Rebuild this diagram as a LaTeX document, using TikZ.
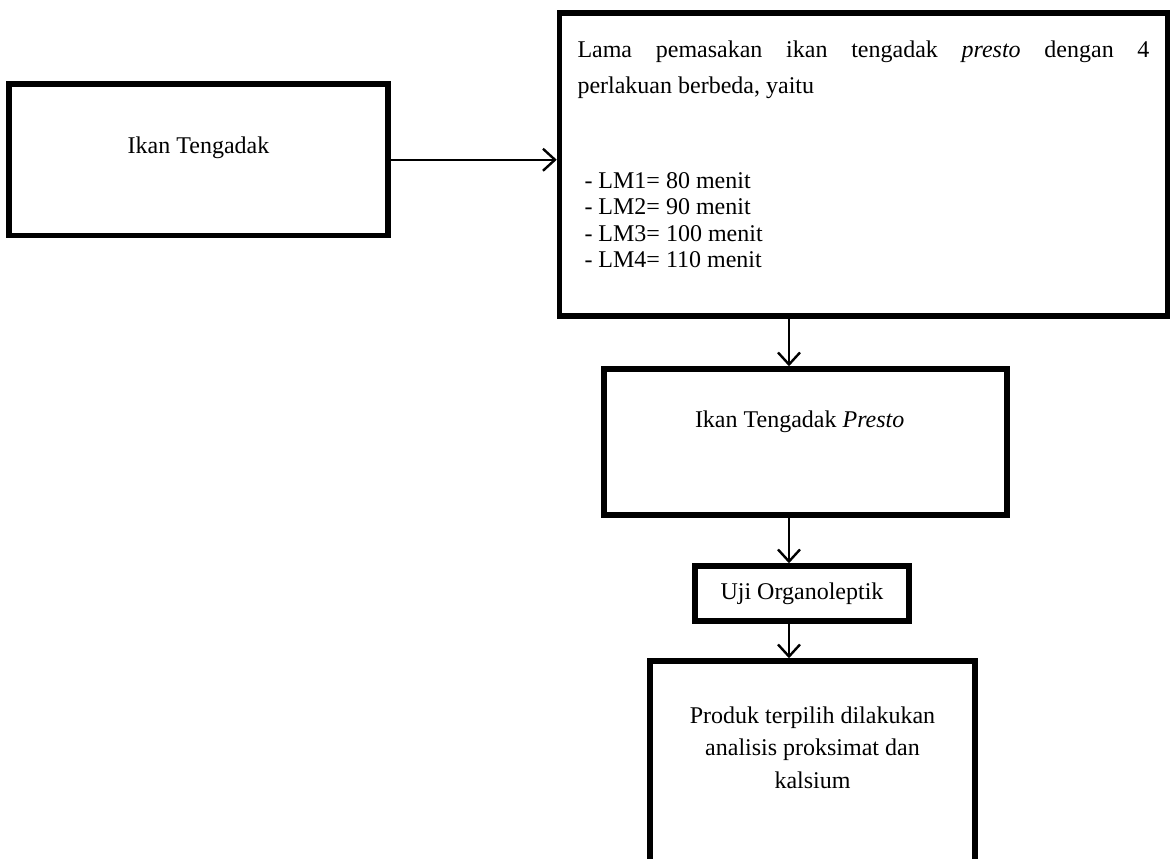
\documentclass[tikz,border=0pt]{standalone}
\usepackage{fontspec}
\setmainfont{Liberation Serif}
\usepackage{amsmath}
\usetikzlibrary{arrows.meta}
\hbadness=10000

\begin{document}
\begin{tikzpicture}[x=0.5pt, y=-0.5pt,
  box/.style = {draw, line width = 2.75pt, inner sep = 0pt, font = \fontsize{12}{13.25}\selectfont},
  arr/.style = {draw, line width = 1.2pt, -{Straight Barb[length = 6pt, width = 11pt]}}]
\useasboundingbox (0,0) rectangle (1173,858);
\clip (0,0) rectangle (1173,858);
\coordinate (mid) at (789,0);
\path (198.5,159.75) node [box] (ikan) {\parbox[c][75.75pt][t]{189.5pt}{\centering\rule{0pt}{34.5pt}Ikan Tengadak}};
\path (863.5,164.5) node [box, inner xsep = 9pt] (lama) {\parbox[c][151.5pt][t]{286pt}{\baselineskip = 18pt \rule{0pt}{22pt}Lama pemasakan ikan tengadak \textit{presto} dengan 4\linebreak perlakuan berbeda, yaitu\par
  \vspace{34.25pt}\baselineskip = 13.25pt
  \hspace*{3.5pt}- LM1= 80 menit\\
  \hspace*{3.5pt}- LM2= 90 menit\\
  \hspace*{3.5pt}- LM3= 100 menit\\
  \hspace*{3.5pt}- LM4= 110 menit}};
\path (805.5,442) node [box] (presto) {\parbox[c][73pt][t]{201.5pt}{\rule{0pt}{29pt}\hspace*{45.5pt}Ikan Tengadak \textit{Presto}}};
\path (802,593.5) node [box, minimum width = 107pt, minimum height = 27.5pt] (uji) {Uji Organoleptik};
\path (812.5,780.5) node [box] (produk) {\parbox[c][119.5pt][t]{162.5pt}{\centering\baselineskip = 16.25pt \rule{0pt}{31pt}Produk terpilih dilakukan\\ analisis proksimat dan\\ kalsium}};
\path [arr] (ikan.east) -- (ikan.east -| lama.west);
\path [arr] (lama.south -| mid) -- (presto.north -| mid);
\path [arr] (presto.south -| mid) -- (uji.north -| mid);
\path [arr] (uji.south -| mid) -- (produk.north -| mid);
\end{tikzpicture}
\end{document}
